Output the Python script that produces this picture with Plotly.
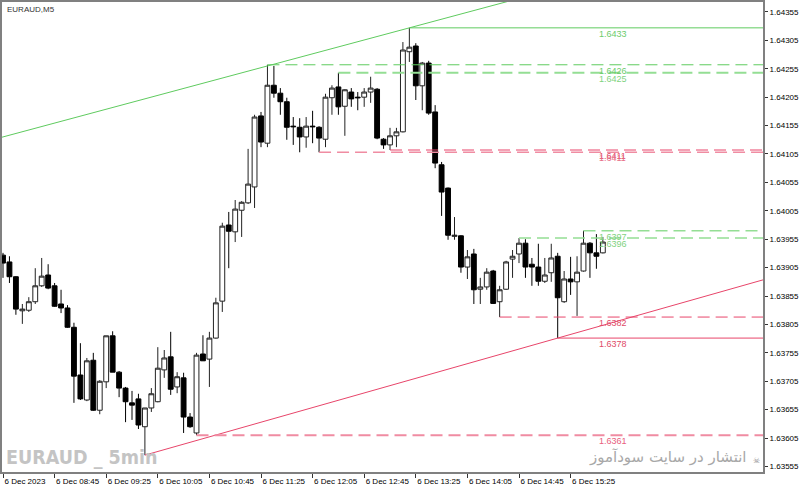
import plotly.graph_objects as go

# ---------------- data ----------------
bar_index = list(range(94))

open_ = [1.63927, 1.63915, 1.63889, 1.63829, 1.63830, 1.63845, 1.63873, 1.63892, 1.63873, 1.63841,
         1.63834, 1.63800, 1.63716, 1.63672, 1.63742, 1.63654, 1.63704, 1.63785, 1.63721, 1.63693,
         1.63667, 1.63674, 1.63625, 1.63658, 1.63669, 1.63725, 1.63748, 1.63695, 1.63711, 1.63642,
         1.63614, 1.63753, 1.63744, 1.63781, 1.63846, 1.63980, 1.63968, 1.64006, 1.64019, 1.64047,
         1.64172, 1.64124, 1.64226, 1.64212, 1.64197, 1.64154, 1.64152, 1.64135, 1.64154, 1.64152,
         1.64131, 1.64204, 1.64223, 1.64189, 1.64214, 1.64205, 1.64205, 1.64214, 1.64219, 1.64131,
         1.64121, 1.64137, 1.64144, 1.64285, 1.64295, 1.64225, 1.64265, 1.64179, 1.64086, 1.64045,
         1.63960, 1.63961, 1.63906, 1.63929, 1.63867, 1.63871, 1.63899, 1.63845, 1.63867, 1.63920,
         1.63929, 1.63948, 1.63911, 1.63906, 1.63881, 1.63896, 1.63925, 1.63845, 1.63885, 1.63880,
         1.63899, 1.63948, 1.63931, 1.63931]

high_ = [1.63931, 1.63925, 1.63890, 1.63841, 1.63853, 1.63904, 1.63922, 1.63911, 1.63878, 1.63866,
         1.63839, 1.63808, 1.63772, 1.63746, 1.63755, 1.63707, 1.63785, 1.63793, 1.63723, 1.63695,
         1.63688, 1.63683, 1.63658, 1.63693, 1.63765, 1.63760, 1.63792, 1.63721, 1.63720, 1.63649,
         1.63755, 1.63786, 1.63792, 1.63852, 1.63984, 1.64003, 1.64024, 1.64022, 1.64114, 1.64174,
         1.64179, 1.64262, 1.64260, 1.64221, 1.64204, 1.64170, 1.64168, 1.64170, 1.64181, 1.64154,
         1.64211, 1.64226, 1.64248, 1.64219, 1.64221, 1.64214, 1.64221, 1.64241, 1.64221, 1.64133,
         1.64151, 1.64151, 1.64302, 1.64327, 1.64300, 1.64267, 1.64269, 1.64191, 1.64091, 1.64046,
         1.63994, 1.63962, 1.63936, 1.63938, 1.63887, 1.63904, 1.63901, 1.63873, 1.63917, 1.63936,
         1.63957, 1.63955, 1.63922, 1.63947, 1.63922, 1.63947, 1.63931, 1.63899, 1.63924, 1.63925,
         1.63970, 1.63950, 1.63964, 1.63959]

low_ = [1.63887, 1.63878, 1.63822, 1.63806, 1.63827, 1.63841, 1.63871, 1.63867, 1.63836, 1.63825,
        1.63799, 1.63667, 1.63672, 1.63670, 1.63653, 1.63647, 1.63693, 1.63721, 1.63677, 1.63633,
        1.63637, 1.63621, 1.63575, 1.63651, 1.63668, 1.63711, 1.63681, 1.63684, 1.63614, 1.63623,
        1.63610, 1.63741, 1.63695, 1.63780, 1.63827, 1.63904, 1.63950, 1.63959, 1.64017, 1.64010,
        1.64117, 1.64117, 1.64204, 1.64174, 1.64130, 1.64121, 1.64108, 1.64116, 1.64124, 1.64108,
        1.64117, 1.64174, 1.64174, 1.64137, 1.64188, 1.64182, 1.64188, 1.64195, 1.64131, 1.64114,
        1.64112, 1.64117, 1.64143, 1.64267, 1.64200, 1.64182, 1.64174, 1.64080, 1.63996, 1.63954,
        1.63954, 1.63896, 1.63885, 1.63841, 1.63841, 1.63866, 1.63841, 1.63818, 1.63866, 1.63887,
        1.63913, 1.63887, 1.63873, 1.63873, 1.63878, 1.63880, 1.63781, 1.63843, 1.63857, 1.63820,
        1.63898, 1.63887, 1.63903, 1.63930]

close_ = [1.63913, 1.63889, 1.63832, 1.63832, 1.63845, 1.63873, 1.63890, 1.63869, 1.63837, 1.63834,
          1.63800, 1.63714, 1.63674, 1.63741, 1.63654, 1.63705, 1.63785, 1.63721, 1.63693, 1.63669,
          1.63663, 1.63628, 1.63658, 1.63683, 1.63728, 1.63746, 1.63691, 1.63713, 1.63642, 1.63625,
          1.63751, 1.63741, 1.63781, 1.63843, 1.63978, 1.63969, 1.64008, 1.64020, 1.64052, 1.64170,
          1.64126, 1.64226, 1.64212, 1.64197, 1.64152, 1.64153, 1.64135, 1.64154, 1.64153, 1.64133,
          1.64205, 1.64221, 1.64188, 1.64218, 1.64202, 1.64204, 1.64214, 1.64221, 1.64133, 1.64121,
          1.64137, 1.64144, 1.64288, 1.64293, 1.64225, 1.64265, 1.64177, 1.64089, 1.64038, 1.63962,
          1.63962, 1.63906, 1.63924, 1.63866, 1.63871, 1.63897, 1.63842, 1.63866, 1.63915, 1.63925,
          1.63948, 1.63906, 1.63906, 1.63881, 1.63892, 1.63922, 1.63852, 1.63885, 1.63880, 1.63897,
          1.63948, 1.63931, 1.63925, 1.63950]

x_tick_bars = [0, 8, 16, 24, 32, 40, 48, 56, 64, 72, 80, 88]
x_tick_labels = ["6 Dec 2023", "6 Dec 08:45", "6 Dec 09:25", "6 Dec 10:05", "6 Dec 10:45",
                 "6 Dec 11:25", "6 Dec 12:05", "6 Dec 12:45", "6 Dec 13:25", "6 Dec 14:05",
                 "6 Dec 14:45", "6 Dec 15:25"]

y_tick_values = [1.63555, 1.63605, 1.63655, 1.63705, 1.63755, 1.63805, 1.63855, 1.63905, 1.63955,
                 1.64005, 1.64055, 1.64105, 1.64155, 1.64205, 1.64255, 1.64305, 1.64355]
y_tick_labels = ["1.63555", "1.63605", "1.63655", "1.63705", "1.63755", "1.63805", "1.63855",
                 "1.63905", "1.63955", "1.64005", "1.64055", "1.64105", "1.64155", "1.64205",
                 "1.64255", "1.64305", "1.64355"]

level_prices = [1.64327, 1.64262, 1.64248, 1.64112, 1.64108, 1.63970, 1.63957, 1.63818, 1.63781, 1.63610]
level_start_bars = [63, 41, 52, 60, 49, 90, 80, 77, 86, 30]
level_labels = ["1.6433", "1.6426", "1.6425", "1.6411", "1.6411", "1.6397", "1.6396", "1.6382", "1.6378", "1.6361"]

green_trend_bars = [-1, 63]
green_trend_prices = [1.64132, 1.64327]
red_trend_bars = [22, 86]
red_trend_prices = [1.63575, 1.63781]

# ---------------- styles ----------------
GREEN = "#5FCB5F"
GREEN_L = "#94DE94"
RED = "#E8456A"
RED_L = "#F08CA2"
level_colors = [GREEN, GREEN, GREEN_L, RED, RED_L, GREEN_L, GREEN_L, RED, RED, RED_L]
level_widths = [1, 1, 2, 1, 1.5, 1.5, 1.5, 1, 1, 2]
level_dash = ["solid", "12px,6px", "12px,6px", "12px,6px", "12px,6px", "12px,6px",
              "12px,6px", "12px,6px", "solid", "12px,6px"]
label_colors = ["#6CCB6C", "#6CCB6C", "#7FD27F", "#E04A68", "#E8708A", "#7FD27F", "#7FD27F",
                "#E04A68", "#E04A68", "#E8607E"]

X_MIN, X_MAX = -0.155, 117.83
Y_MIN, Y_MAX = 1.635453, 1.643725

fig = go.Figure()

def extend(bars, prices, x_end):
    slope = (prices[1] - prices[0]) / (bars[1] - bars[0])
    return [bars[0], x_end], [prices[0], prices[0] + slope * (x_end - bars[0])]

gx, gy = extend(green_trend_bars, green_trend_prices, X_MAX + 1)
fig.add_trace(go.Scatter(x=gx, y=gy, mode="lines", line=dict(color=GREEN, width=1),
                         hoverinfo="skip", showlegend=False))
rx, ry = extend(red_trend_bars, red_trend_prices, X_MAX + 1)
fig.add_trace(go.Scatter(x=rx, y=ry, mode="lines", line=dict(color=RED, width=1),
                         hoverinfo="skip", showlegend=False))

for p, b, c, w, d in zip(level_prices, level_start_bars, level_colors, level_widths, level_dash):
    fig.add_trace(go.Scatter(x=[b, X_MAX + 1], y=[p, p], mode="lines",
                             line=dict(color=c, width=w, dash=d),
                             hoverinfo="skip", showlegend=False))

fig.add_trace(go.Candlestick(
    x=bar_index, open=open_, high=high_, low=low_, close=close_,
    increasing=dict(line=dict(color="#222222", width=1), fillcolor="white"),
    decreasing=dict(line=dict(color="#000000", width=1), fillcolor="black"),
    whiskerwidth=0, showlegend=False, hoverinfo="skip"))

annotations = []
for p, t, c in zip(level_prices, level_labels, label_colors):
    annotations.append(dict(xref="paper", yref="y", x=0.782, y=p, text=t, showarrow=False,
                            xanchor="left", yanchor="top", yshift=1,
                            font=dict(family="Liberation Sans", size=9, color=c)))

annotations.append(dict(xref="paper", yref="paper", x=0.004, y=0.985, text="EURAUD,M5",
                        showarrow=False, xanchor="left", yanchor="middle",
                        font=dict(family="Liberation Sans", size=8, color="#333333")))
annotations.append(dict(xref="paper", yref="paper", x=0.002, y=0.03, text="<b>EURAUD _ 5min</b>",
                        showarrow=False, xanchor="left", yanchor="middle",
                        font=dict(family="Liberation Sans Narrow, DejaVu Sans Condensed, Roboto Condensed, Liberation Sans",
                                  size=19.5, color="#C4C4C4")))
annotations.append(dict(xref="paper", yref="paper", x=0.981, y=0.032, text="انتشار در سایت سودآموز",
                        showarrow=False, xanchor="right", yanchor="middle",
                        font=dict(family="DejaVu Sans", size=15, color="#A8A8A8")))
annotations.append(dict(xref="paper", yref="paper", x=0.991, y=0.025, text="☠",
                        showarrow=False, xanchor="center", yanchor="middle",
                        font=dict(family="DejaVu Sans", size=8, color="#909090")))

fig.update_layout(
    width=800, height=488,
    margin=dict(l=2, r=37, t=2, b=16, autoexpand=False),
    paper_bgcolor="white", plot_bgcolor="white",
    boxgap=0.25, boxgroupgap=0,
    showlegend=False,
    annotations=annotations,
    xaxis=dict(range=[X_MIN, X_MAX], tickmode="array", tickvals=x_tick_bars, ticktext=x_tick_labels,
               ticks="outside", ticklen=4, tickcolor="#333", showgrid=False, zeroline=False,
               showline=True, linecolor="#808080", linewidth=2, mirror=True,
               ticklabelposition="outside right", tickangle=0, automargin=False,
               tickfont=dict(family="Liberation Sans", size=8, color="black"),
               rangeslider=dict(visible=False), fixedrange=True),
    yaxis=dict(range=[Y_MIN, Y_MAX], side="right", tickmode="array", tickvals=y_tick_values,
               ticktext=y_tick_labels, ticks="outside", ticklen=3, tickcolor="#333",
               showgrid=False, zeroline=False, showline=True, linecolor="#808080", linewidth=2,
               mirror=True, automargin=False,
               tickfont=dict(family="Liberation Sans", size=8, color="black"),
               fixedrange=True),
)

fig.write_html("out.html")
